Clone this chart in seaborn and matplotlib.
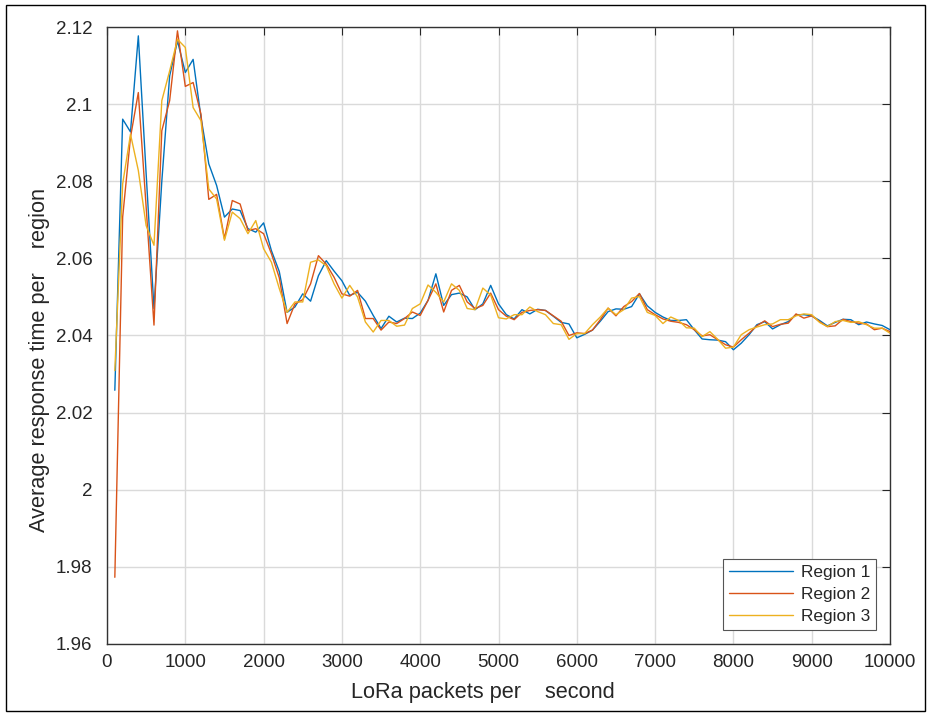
import numpy as np
import pandas as pd
import matplotlib.pyplot as plt
from matplotlib.patches import Rectangle
import seaborn as sns

# packets per second, one sample every 100
packets = np.arange(100, 10100, 100)

region_1 = [
    2.0258, 2.0961, 2.0928, 2.1177, 2.0819, 2.0470, 2.0800, 2.1073, 2.1164, 2.1082,
    2.1116, 2.0966, 2.0845, 2.0789, 2.0707, 2.0728, 2.0724, 2.0677, 2.0668, 2.0692,
    2.0620, 2.0566, 2.0460, 2.0474, 2.0508, 2.0489, 2.0555, 2.0594, 2.0567, 2.0542,
    2.0504, 2.0512, 2.0489, 2.0452, 2.0418, 2.0450, 2.0435, 2.0445, 2.0444, 2.0458,
    2.0491, 2.0560, 2.0478, 2.0506, 2.0510, 2.0500, 2.0467, 2.0482, 2.0530, 2.0482,
    2.0454, 2.0443, 2.0467, 2.0456, 2.0468, 2.0465, 2.0450, 2.0434, 2.0430, 2.0394,
    2.0403, 2.0414, 2.0437, 2.0462, 2.0469, 2.0468, 2.0475, 2.0508, 2.0477, 2.0460,
    2.0448, 2.0439, 2.0439, 2.0441, 2.0415, 2.0391, 2.0389, 2.0388, 2.0384, 2.0363,
    2.0380, 2.0402, 2.0428, 2.0436, 2.0417, 2.0428, 2.0436, 2.0454, 2.0454, 2.0451,
    2.0439, 2.0425, 2.0434, 2.0442, 2.0441, 2.0428, 2.0435, 2.0430, 2.0426, 2.0415,
]
region_2 = [
    1.9773, 2.0707, 2.0914, 2.1030, 2.0733, 2.0427, 2.0931, 2.1009, 2.1190, 2.1046,
    2.1056, 2.0974, 2.0753, 2.0766, 2.0651, 2.0750, 2.0741, 2.0672, 2.0677, 2.0664,
    2.0612, 2.0550, 2.0431, 2.0482, 2.0493, 2.0534, 2.0607, 2.0585, 2.0551, 2.0508,
    2.0502, 2.0517, 2.0444, 2.0444, 2.0414, 2.0435, 2.0431, 2.0444, 2.0461, 2.0452,
    2.0491, 2.0534, 2.0461, 2.0517, 2.0530, 2.0487, 2.0470, 2.0478, 2.0510, 2.0467,
    2.0450, 2.0441, 2.0460, 2.0465, 2.0467, 2.0465, 2.0451, 2.0437, 2.0400, 2.0407,
    2.0405, 2.0414, 2.0441, 2.0471, 2.0451, 2.0475, 2.0488, 2.0509, 2.0467, 2.0454,
    2.0443, 2.0437, 2.0434, 2.0428, 2.0415, 2.0399, 2.0402, 2.0389, 2.0376, 2.0370,
    2.0389, 2.0406, 2.0425, 2.0438, 2.0423, 2.0429, 2.0432, 2.0456, 2.0445, 2.0451,
    2.0436, 2.0423, 2.0425, 2.0442, 2.0436, 2.0432, 2.0430, 2.0415, 2.0419, 2.0410,
]
region_3 = [
    2.0309, 2.0793, 2.0922, 2.0828, 2.0685, 2.0634, 2.1009, 2.1086, 2.1168, 2.1147,
    2.0991, 2.0957, 2.0780, 2.0754, 2.0647, 2.0720, 2.0703, 2.0664, 2.0698, 2.0625,
    2.0590, 2.0522, 2.0460, 2.0487, 2.0487, 2.0590, 2.0596, 2.0581, 2.0534, 2.0497,
    2.0530, 2.0500, 2.0435, 2.0409, 2.0439, 2.0439, 2.0424, 2.0427, 2.0470, 2.0482,
    2.0531, 2.0512, 2.0487, 2.0534, 2.0517, 2.0470, 2.0467, 2.0523, 2.0505, 2.0446,
    2.0443, 2.0454, 2.0454, 2.0474, 2.0462, 2.0454, 2.0431, 2.0428, 2.0390, 2.0405,
    2.0405, 2.0428, 2.0448, 2.0471, 2.0454, 2.0467, 2.0497, 2.0501, 2.0460, 2.0452,
    2.0431, 2.0448, 2.0439, 2.0420, 2.0419, 2.0397, 2.0410, 2.0390, 2.0367, 2.0370,
    2.0402, 2.0415, 2.0422, 2.0428, 2.0430, 2.0441, 2.0441, 2.0451, 2.0456, 2.0454,
    2.0434, 2.0423, 2.0436, 2.0439, 2.0434, 2.0436, 2.0428, 2.0419, 2.0419, 2.0406,
]

region_names = ['Region 1', 'Region 2', 'Region 3']
colors = ['#0072BD', '#D95319', '#EDB120']
x_ticks = [0, 1000, 2000, 3000, 4000, 5000, 6000, 7000, 8000, 9000, 10000]
y_ticks = [1.96, 1.98, 2.0, 2.02, 2.04, 2.06, 2.08, 2.1, 2.12]
y_tick_labels = ['1.96', '1.98', '2', '2.02', '2.04', '2.06', '2.08', '2.1', '2.12']

df = pd.DataFrame({'packets': packets, 'Region 1': region_1,
                   'Region 2': region_2, 'Region 3': region_3})
df = df.melt(id_vars='packets', var_name='region', value_name='time')

sns.set_style("white")
plt.rcParams['font.family'] = ['Liberation Sans', 'DejaVu Sans']

fig = plt.figure(figsize=(9.28, 7.15), dpi=100)
ax = fig.add_axes([107 / 928, 1 - 644 / 715, 783 / 928, 617 / 715])

sns.lineplot(data=df, x='packets', y='time', hue='region', hue_order=region_names,
             palette=colors, linewidth=1.0, ax=ax)

ax.set_xlim(0, 10000)
ax.set_ylim(1.96, 2.12)
ax.set_xticks(x_ticks)
ax.set_yticks(y_ticks)
ax.set_yticklabels(y_tick_labels)
ax.grid(True, color='#dadada', linewidth=1.0)
ax.set_axisbelow(True)

dark = '#262626'
ax.tick_params(direction='in', top=True, right=True, length=6, width=0.8,
               labelsize=13.5, colors=dark)
ax.tick_params(axis='x', pad=7.5)
ax.tick_params(axis='y', pad=10.5)
for side in ax.spines.values():
    side.set_visible(True)
    side.set_color('#333333')
    side.set_linewidth(1.0)

ax.set_xlabel('LoRa packets per    second', fontsize=15.7, color=dark)
ax.set_ylabel('Average response time per    region', fontsize=15.7, color=dark)
ax.xaxis.set_label_coords(0.48, -0.062)
ax.yaxis.set_label_coords(-0.073, 0.46)

ax.legend(loc='lower right', fontsize=12.4, frameon=True, fancybox=False,
          edgecolor='#555555', framealpha=1, handlelength=3.7, handletextpad=0.45,
          labelspacing=0.4, borderpad=0.35, borderaxespad=0.8)
ax.get_legend().get_frame().set_linewidth(0.8)

# thin frame round the whole picture
fig.patches.append(Rectangle((6 / 928, 4 / 715), 919 / 928, 706 / 715,
                             transform=fig.transFigure, fill=False,
                             edgecolor='black', linewidth=1.0))

fig.savefig('out.png', dpi=100)
